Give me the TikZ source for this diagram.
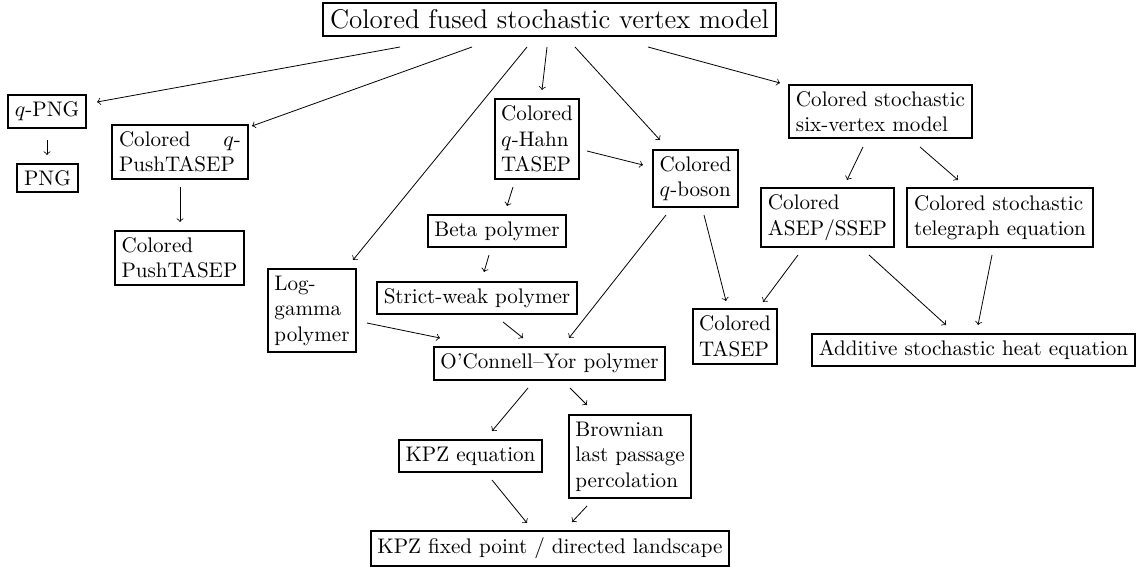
\documentclass[tikz,border=0pt]{standalone}
\usetikzlibrary{calc}
\begin{document}
\begin{tikzpicture}[x=0.5pt,y=-0.5pt,
  every node/.style={font=\fontsize{10.55}{12.75}\selectfont},
  box/.style={draw, line width=1pt, align=left},
  jbox/.style={draw, line width=1pt, text width=61pt, align=justify},
  arr/.style={->, line width=0.4pt}]
\useasboundingbox (0,0) rectangle (1140,567);
\node[box, font=\fontsize{13.5}{16}\selectfont] (top) at (549.5,19.5) {Colored fused stochastic vertex model};
\node[box] (qpng) at (47,111.5) {$q$-PNG};
\node[box] (png) at (47.5,178) {PNG};
\node[jbox] (qpush) at (180,152) {Colored $q$-PushTASEP};
\node[box] (push) at (179.5,258) {Colored\\PushTASEP};
\node[box] (qhahn) at (537,139) {Colored\\$q$-Hahn\\TASEP};
\node[box] (qboson) at (695.5,178.5) {Colored\\$q$-boson};
\node[box] (six) at (880.5,111.5) {Colored stochastic\\six-vertex model};
\node[box] (asep) at (827.5,217.5) {Colored\\ASEP/SSEP};
\node[box] (tele) at (1000,217.5) {Colored stochastic\\telegraph equation};
\node[box] (loggamma) at (312,310.5) {Log-\\gamma\\polymer};
\node[box] (beta) at (497,231) {Beta polymer};
\node[box] (strict) at (477,298) {Strict-weak polymer};
\node[box] (oc) at (549.5,363.5) {O'Connell--Yor polymer};
\node[box] (tasep) at (735,336.5) {Colored\\TASEP};
\node[box] (additive) at (973.5,350) {Additive stochastic heat equation};
\node[box] (kpz) at (470.5,456) {KPZ equation};
\node[box] (brownian) at (630,456.5) {Brownian\\last passage\\percolation};
\node[box] (fixed) at (550,548.5) {KPZ fixed point / directed landscape};

\draw[arr] ($(top)+(-149.5,27.5)$) -- ($(qpng)+(50,-9.5)$);
\draw[arr] ($(top)+(-77.5,27.5)$) -- ($(qpush)+(72,-26)$);
\draw[arr] ($(top)+(-22.5,27.5)$) -- ($(loggamma)+(41,-50.5)$);
\draw[arr] ($(top)+(-2.5,27.5)$) -- ($(qhahn)+(5,-49)$);
\draw[arr] ($(top)+(25.5,27.5)$) -- ($(qboson)+(-35.5,-38.5)$);
\draw[arr] ($(top)+(98.5,27.5)$) -- ($(six)+(-100.5,-28.5)$);
\draw[arr] ($(qpng)+(0,28.5)$) -- ($(png)+(-0.5,-23)$);
\draw[arr] ($(qpush)+(0,35)$) -- ($(push)+(0.5,-36)$);
\draw[arr] ($(qhahn)+(50,12)$) -- ($(qboson)+(-52.5,-13.5)$);
\draw[arr] ($(qhahn)+(-24,48)$) -- ($(beta)+(10,-25)$);
\draw[arr] ($(beta)+(-8,24)$) -- ($(strict)+(7,-26)$);
\draw[arr] ($(strict)+(26,24)$) -- ($(oc)+(-26.5,-25.5)$);
\draw[arr] ($(loggamma)+(55,12.5)$) -- ($(oc)+(-109.5,-25.5)$);
\draw[arr] ($(qboson)+(-29.5,36.5)$) -- ($(oc)+(19.5,-25.5)$);
\draw[arr] ($(qboson)+(8.5,36.5)$) -- ($(tasep)+(-9,-35.5)$);
\draw[arr] ($(six)+(-17.5,35.5)$) -- ($(asep)+(19.5,-37.5)$);
\draw[arr] ($(six)+(39.5,35.5)$) -- ($(tele)+(-42,-37.5)$);
\draw[arr] ($(asep)+(-29.5,37.5)$) -- ($(tasep)+(28,-34.5)$);
\draw[arr] ($(asep)+(41.5,37.5)$) -- ($(additive)+(-27.5,-25)$);
\draw[arr] ($(tele)+(-8,37.5)$) -- ($(additive)+(4.5,-25)$);
\draw[arr] ($(oc)+(-21.5,24.5)$) -- ($(kpz)+(21.5,-25)$);
\draw[arr] ($(oc)+(20.5,24.5)$) -- ($(brownian)+(-43,-51.5)$);
\draw[arr] ($(kpz)+(21.5,24)$) -- ($(fixed)+(-23,-25.5)$);
\draw[arr] ($(brownian)+(-43,49.5)$) -- ($(fixed)+(22,-26.5)$);
\end{tikzpicture}
\end{document}
